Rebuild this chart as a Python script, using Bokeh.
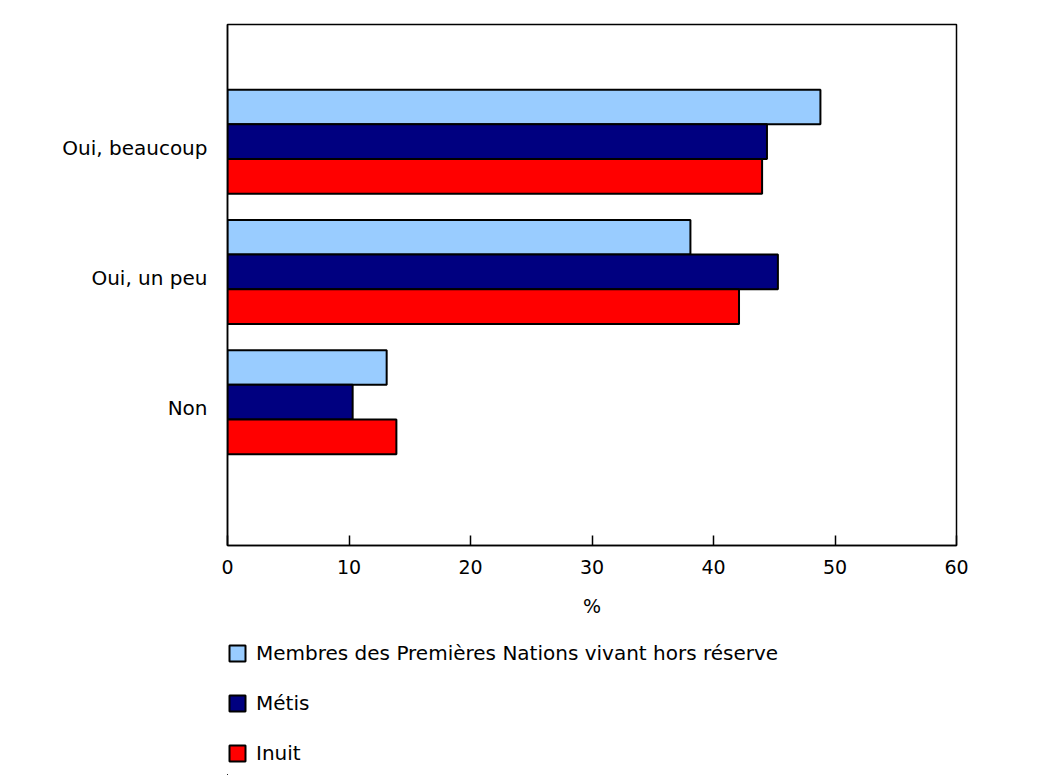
from bokeh.plotting import figure
from bokeh.layouts import column
from bokeh.models import Range1d, FixedTicker, Legend, LegendItem, ColumnDataSource
from bokeh.embed import file_html
from bokeh.resources import INLINE

categories = ["Oui, beaucoup", "Oui, un peu", "Non"]
series_names = ["Membres des Premières Nations vivant hors réserve", "Métis", "Inuit"]
premieres_nations = [48.8, 38.1, 13.1]
metis = [44.4, 45.3, 10.3]
inuit = [44.0, 42.1, 13.9]
colors = ["#99CCFF", "#000080", "#FF0000"]
x_ticks = [0, 10, 20, 30, 40, 50, 60]

FONT = "DejaVu Sans"
TICK_FS = "19px"
LABEL_FS = "20px"

n = len(categories)
centers = [n - i for i in range(n)]  # 3, 2, 1
bar_h = 0.8 / 3
offsets = [bar_h, 0.0, -bar_h]
label_shift = 0.045  # category labels sit slightly below group centre

sources = [ColumnDataSource(dict(y=[c + off for c in centers], right=vals))
           for vals, off in zip([premieres_nations, metis, inuit], offsets)]

p = figure(frame_width=729, frame_height=521, output_backend="svg", toolbar_location=None,
           x_range=Range1d(0, 60), y_range=Range1d(-0.1, n + 0.9),
           min_border_left=227, min_border_right=78, min_border_top=24, min_border_bottom=90)

for src, col in zip(sources, colors):
    p.hbar(y="y", left=0, right="right", height=bar_h, source=src,
           fill_color=col, line_color="black", line_width=2)

p.grid.visible = False
p.outline_line_color = "black"
p.outline_line_width = 1.5

xa = p.xaxis[0]
xa.ticker = FixedTicker(ticks=x_ticks)
xa.axis_label = "%"
xa.axis_label_text_font = FONT
xa.axis_label_text_font_size = TICK_FS
xa.axis_label_text_font_style = "normal"
xa.axis_label_text_color = "black"
xa.axis_label_standoff = 18
xa.major_label_text_font = FONT
xa.major_label_text_font_size = TICK_FS
xa.major_label_text_color = "black"
xa.major_label_standoff = 14
xa.major_tick_in = 10
xa.major_tick_out = 0
xa.minor_tick_line_color = None
xa.axis_line_color = "black"
xa.axis_line_width = 1.5
xa.major_tick_line_color = "black"
xa.major_tick_line_width = 1.5

ya = p.yaxis[0]
label_pos = [c - label_shift for c in centers]
ya.ticker = FixedTicker(ticks=label_pos)
ya.major_label_overrides = {lp: cat for lp, cat in zip(label_pos, categories)}
ya.major_label_text_font = FONT
ya.major_label_text_font_size = LABEL_FS
ya.major_label_text_color = "black"
ya.major_label_standoff = 20
ya.major_tick_in = 0
ya.major_tick_out = 0
ya.minor_tick_line_color = None
ya.axis_line_color = "black"
ya.axis_line_width = 1.5

# Legend panel (separate figure below the chart; its view is moved far away from
# the data so only the legend entries are visible)
lg = figure(width=1034, height=140, output_backend="svg", toolbar_location=None,
            x_range=Range1d(1000, 1060), y_range=Range1d(1000, 1004),
            x_axis_location=None, y_axis_location=None,
            min_border_left=227, min_border_right=78, min_border_top=0, min_border_bottom=0)
lg.grid.visible = False
lg.outline_line_color = None

legend_renderers = []
for src, col in zip(sources, colors):
    r = lg.hbar(y="y", left=0, right="right", height=bar_h, source=src,
                fill_color=col, line_color="black", line_width=2)
    legend_renderers.append(r)

legend = Legend(items=[LegendItem(label=nm, renderers=[r]) for nm, r in zip(series_names, legend_renderers)],
                location=(0, 10), orientation="vertical",
                label_text_font=FONT, label_text_font_size=LABEL_FS, label_text_color="black",
                glyph_width=20, glyph_height=20, label_height=20, label_standoff=9,
                spacing=26, padding=0, margin=0,
                border_line_color=None, background_fill_alpha=0)
lg.add_layout(legend, "center")

layout = column(p, lg, spacing=0)
open("out.html", "w").write(file_html(layout, INLINE))
